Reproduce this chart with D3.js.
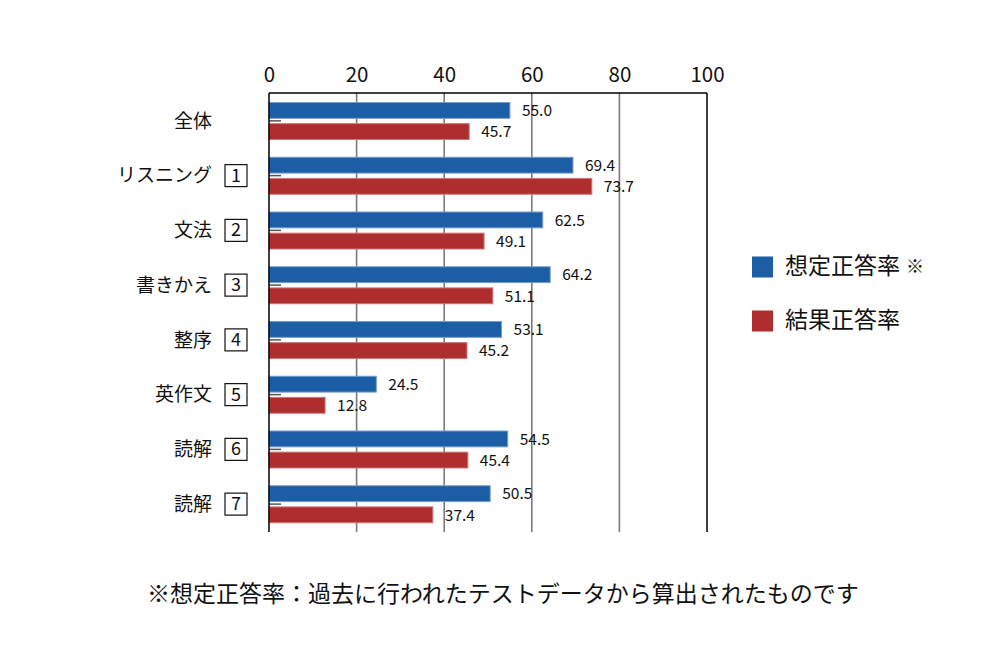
<!DOCTYPE html>
<html><head><meta charset="utf-8">
<script src="https://cdn.jsdelivr.net/npm/d3@7"></script>
<style>
html,body{margin:0;padding:0;background:#fff;}
text{font-family:"Noto Sans CJK JP","Noto Sans",sans-serif;fill:#111;}
</style></head>
<body>
<svg id="chart" width="1000" height="660"></svg>
<script>
const categories = ["全体","リスニング","文法","書きかえ","整序","英作文","読解","読解"];
const categoryNumbers = ["","1","2","3","4","5","6","7"];
const seriesNames = ["想定正答率","結果正答率"];
const assumedRate = [55.0,69.4,62.5,64.2,53.1,24.5,54.5,50.5];
const actualRate  = [45.7,73.7,49.1,51.1,45.2,12.8,45.4,37.4];
const tickValues = [0,20,40,60,80,100];
const footnote = "※想定正答率：過去に行われたテストデータから算出されたものです";

(function(){
const colors = ["#1c5ea6","#ae2e2f"];
const strokes = ["#7b9ccb","#cf7676"];

const svg = d3.select("#chart");
const pL = 269, pR = 707, pT = 93, pB = 531;

const x = d3.scaleLinear().domain([0,100]).range([pL,pR]);
const idx = categories.map((c,i)=>i);
const y = d3.scaleBand().domain(idx).range([pT,pB]).padding(0);
const ySub = d3.scaleBand().domain([0,1]).range([9.5, 46.5]).paddingInner(0.25).paddingOuter(0);

// gridlines
svg.append("g").selectAll("line").data(tickValues.filter(t=>t>0 && t<100)).join("line")
  .attr("x1",d=>x(d)).attr("x2",d=>x(d)).attr("y1",pT).attr("y2",pB+1)
  .attr("stroke","#7a7a7a").attr("stroke-width",1.6);

// bars
const series = [assumedRate, actualRate];
series.forEach((vals,s)=>{
  svg.append("g").selectAll("rect").data(vals).join("rect")
    .attr("x",x(0)).attr("y",(d,i)=>y(i)+ySub(s))
    .attr("width",d=>x(d)-x(0)).attr("height",ySub.bandwidth())
    .attr("fill",colors[s]).attr("stroke",strokes[s]).attr("stroke-width",1);
});

// category ticks
svg.append("g").selectAll("line").data(idx).join("line")
  .attr("x1",pL).attr("x2",pL+12)
  .attr("y1",i=>y(i)+y.bandwidth()/2+0.5).attr("y2",i=>y(i)+y.bandwidth()/2+0.5)
  .attr("stroke","#555").attr("stroke-width",1.5);

// value labels
series.forEach((vals,s)=>{
  svg.append("g").selectAll("text").data(vals).join("text")
    .attr("x",d=>x(d)+12).attr("y",(d,i)=>y(i)+ySub(s)+ySub.bandwidth()/2+1.5)
    .attr("dominant-baseline","middle").attr("font-size",15.5)
    .text(d=>d.toFixed(1));
});

// frame: top, right, left axis
svg.append("line").attr("x1",pL).attr("x2",pR).attr("y1",pT).attr("y2",pT).attr("stroke","#000").attr("stroke-width",1.5);
svg.append("line").attr("x1",pR).attr("x2",pR).attr("y1",pT).attr("y2",pB+1).attr("stroke","#000").attr("stroke-width",1.5);
svg.append("line").attr("x1",pL).attr("x2",pL).attr("y1",pT).attr("y2",pB+1).attr("stroke","#000").attr("stroke-width",1.5);

// top axis
const axis = d3.axisTop(x).tickValues(tickValues).tickSize(0).tickPadding(11).tickFormat(d3.format("d"));
const gAxis = svg.append("g").attr("transform",`translate(0,${pT})`).call(axis);
gAxis.select(".domain").remove();
gAxis.selectAll("text").attr("font-size",20.5).attr("fill","#111")
  .style("font-family",'"Noto Sans CJK JP","Noto Sans",sans-serif');

// category labels
const gCat = svg.append("g");
idx.forEach(i=>{
  const cy = y(i)+y.bandwidth()/2;
  gCat.append("text").attr("x",212).attr("y",cy+2).attr("text-anchor","end")
    .attr("dominant-baseline","middle").attr("font-size",19).text(categories[i]);
  if (categoryNumbers[i]) {
    gCat.append("rect").attr("x",225).attr("y",cy-10.5).attr("width",22).attr("height",22)
      .attr("fill","none").attr("stroke","#111").attr("stroke-width",1.2);
    gCat.append("text").attr("x",236).attr("y",cy+1.5).attr("text-anchor","middle")
      .attr("dominant-baseline","middle").attr("font-size",18).text(categoryNumbers[i]);
  }
});

// legend
const legend = svg.append("g");
seriesNames.forEach((n,s)=>{
  const cy = 267 + s*54;
  legend.append("rect").attr("x",752).attr("y",cy-10.5).attr("width",21).attr("height",21).attr("fill",colors[s]);
  const t = legend.append("text").attr("x",785).attr("y",cy+1).attr("dominant-baseline","middle").attr("font-size",23).text(n);
  if (s===0) t.append("tspan").attr("dx",6).attr("font-size",18).text("※");
});

// footnote
svg.append("text").attr("x",147).attr("y",596).attr("dominant-baseline","middle").attr("font-size",23).text(footnote);
})();
</script>
</body></html>
